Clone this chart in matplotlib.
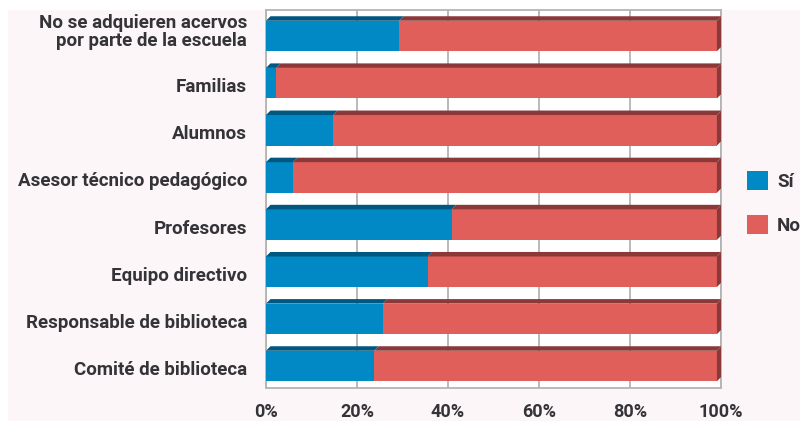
import matplotlib.pyplot as plt
import numpy as np
from matplotlib.patches import Polygon, Rectangle, Patch
from matplotlib import transforms

# data
CATEGORIES = [
    "No se adquieren acervos\npor parte de la escuela",
    "Familias",
    "Alumnos",
    "Asesor técnico pedagógico",
    "Profesores",
    "Equipo directivo",
    "Responsable de biblioteca",
    "Comité de biblioteca",
]
SI = np.array([29.5, 2.3, 14.9, 6.0, 41.2, 35.9, 25.9, 24.0])
NO = 100.0 - SI
SERIES_LABELS = ["Sí", "No"]
X_TICKS = [0, 20, 40, 60, 80, 100]

BLUE, BLUE_DARK = "#0089c4", "#00577f"
RED, RED_DARK = "#e15f5b", "#8b3838"
TEXT = "#333338"
BG = "#fdf6f8"
GRID = "#b4b4b4"

plt.rcParams["font.family"] = ["Roboto", "DejaVu Sans"]

W, H = 800, 421
fig = plt.figure(figsize=(W / 100, H / 100), dpi=100)
fig.patch.set_facecolor("white")
fig.patches.append(Rectangle((8 / W, 0), 1, 1 - 10 / H, transform=fig.transFigure,
                             facecolor=BG, edgecolor="none", zorder=-10))

ax_l, ax_r, ax_t, ax_b = 266, 721, 10, 388
ax = fig.add_axes([ax_l / W, 1 - ax_b / H, (ax_r - ax_l) / W, (ax_b - ax_t) / H])
ax.set_facecolor("white")

px_per_slot = 47.14
ax.set_xlim(0, 100)
ax.set_ylim(7 + 22 / px_per_slot, -26 / px_per_slot)

# 3D look: front face slightly narrower, depth offset up/right
scale = 0.991
dx = 4.5 / 4.55          # data units in x
dy = 4.5 / px_per_slot   # data units in y
bh = 30.5 / px_per_slot

y = np.arange(len(CATEGORIES))
ax.barh(y, SI * scale, left=0, height=bh, color=BLUE, zorder=3)
ax.barh(y, NO * scale, left=SI * scale, height=bh, color=RED, zorder=3)

for yi, s, n in zip(y, SI, NO):
    top = yi - bh / 2
    bot = yi + bh / 2
    segs = [(0, s * scale, BLUE_DARK), (s * scale, (s + n) * scale, RED_DARK)]
    for x0, x1, c in segs:
        ax.add_patch(Polygon([(x0, top), (x1, top), (x1 + dx, top - dy), (x0 + dx, top - dy)],
                             closed=True, facecolor=c, edgecolor="none", zorder=3))
    x1 = (s + n) * scale
    ax.add_patch(Polygon([(x1, top), (x1 + dx, top - dy), (x1 + dx, bot - dy), (x1, bot)],
                         closed=True, facecolor=RED_DARK, edgecolor="none", zorder=3))

ax.set_xticks(X_TICKS)
ax.set_xticklabels([f"{t}%" for t in X_TICKS], fontsize=13, fontweight="bold", color=TEXT)
ax.tick_params(axis="x", length=0, pad=11)
ax.set_yticks([])
ax.grid(axis="x", color=GRID, linewidth=1.3, zorder=0)
ax.set_axisbelow(True)
for sp in ax.spines.values():
    sp.set_color(GRID)
    sp.set_linewidth(1.3)

for yi, lab in zip(y, CATEGORIES):
    off = -4 if "\n" in lab else 4
    tr = ax.get_yaxis_transform() + transforms.ScaledTranslation(-19 / 100, -off / 100, fig.dpi_scale_trans)
    ax.text(0, yi, lab, transform=tr, ha="right", va="center", fontsize=13.5,
            fontweight="bold", color=TEXT, linespacing=1.05)

handles = [Patch(facecolor=BLUE, edgecolor="none"), Patch(facecolor=RED, edgecolor="none")]
fig.legend(handles, SERIES_LABELS, loc="upper left", bbox_to_anchor=(747 / W, 1 - 171 / H),
           frameon=False, borderpad=0, borderaxespad=0, handlelength=1.1, handleheight=1.15,
           handletextpad=0.5, labelspacing=1.3,
           prop={"family": ["Roboto", "DejaVu Sans"], "weight": "bold", "size": 13.5},
           labelcolor=TEXT)

fig.savefig("out.png", dpi=100, facecolor=fig.get_facecolor())
